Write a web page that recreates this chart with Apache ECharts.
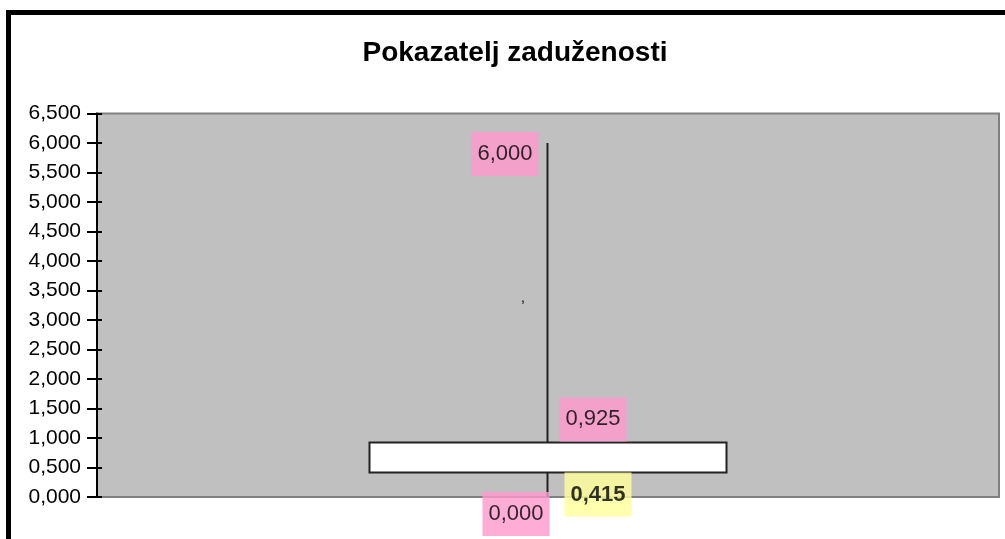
<!DOCTYPE html>
<html>
<head>
<meta charset="utf-8">
<script src="https://cdn.jsdelivr.net/npm/echarts@6/dist/echarts.min.js"></script>
<style>
  html, body { margin: 0; padding: 0; background: #fff; }
  #chart { width: 1005px; height: 539px; }
</style>
</head>
<body>
<div id="chart"></div>
<script>
// podaci
var categories = [''];
var openVals = [0.415];
var closeVals = [0.925];
var lowVals = [0];
var highVals = [6];

var FONT = "'Liberation Sans', Arial, sans-serif";

var fmt = function (v) {
    return v.toFixed(3).replace('.', ',');
};

var chart = echarts.init(document.getElementById('chart'));

var candleData = categories.map(function (c, i) {
    return [openVals[i], closeVals[i], lowVals[i], highVals[i]];
});

// oznake uz svijeću
var pink = { backgroundColor: '#ff99cc', fontWeight: 'normal' };
var yellow = { backgroundColor: '#ffff99', fontWeight: 'bold' };
var labelData = [
    { value: [0, highVals[0]], label: Object.assign({ offset: [-43, 11] }, pink) },
    { value: [0, closeVals[0]], label: Object.assign({ offset: [45, -23] }, pink) },
    { value: [0, lowVals[0]], label: Object.assign({ offset: [-32, 17] }, pink) },
    { value: [0, openVals[0]], label: Object.assign({ offset: [50, 22] }, yellow) }
];

var option = {
    animation: false,
    backgroundColor: '#fff',
    textStyle: { fontFamily: FONT },
    grid: {
        show: true,
        left: 97,
        top: 113.5,
        right: 6,
        bottom: 42,
        backgroundColor: '#c0c0c0',
        borderColor: '#808080',
        borderWidth: 2
    },
    xAxis: {
        type: 'category',
        data: categories,
        boundaryGap: true,
        axisLine: { show: false },
        axisTick: { show: false },
        axisLabel: { show: false },
        splitLine: { show: false }
    },
    yAxis: [{
        type: 'value',
        min: 0,
        max: 6.5,
        interval: 0.5,
        axisLine: { show: true, lineStyle: { color: '#000', width: 2 } },
        axisTick: { show: true, length: 10, lineStyle: { color: '#000', width: 2 } },
        axisLabel: {
            formatter: fmt,
            color: '#000',
            fontSize: 21,
            fontFamily: FONT,
            margin: 16
        },
        splitLine: { show: false }
    }, {
        type: 'value',
        position: 'left',
        min: 0,
        max: 6.5,
        interval: 0.5,
        axisLine: { show: false },
        axisTick: { show: true, inside: true, length: 5, lineStyle: { color: '#000', width: 2 } },
        axisLabel: { show: false },
        splitLine: { show: false }
    }],
    series: [{
        type: 'candlestick',
        data: candleData,
        barWidth: 357,
        itemStyle: {
            color: '#fff',
            color0: '#fff',
            borderColor: '#222',
            borderColor0: '#222',
            borderWidth: 2
        }
    }, {
        type: 'scatter',
        data: labelData,
        symbolSize: 0,
        silent: true,
        label: {
            show: true,
            position: 'inside',
            formatter: function (p) { return fmt(p.value[1]); },
            color: '#000',
            fontSize: 22,
            fontFamily: FONT,
            lineHeight: 22,
            padding: [11, 6]
        }
    }],
    graphic: [{
        type: 'rect',
        silent: true,
        shape: { x: 8.5, y: 12.5, width: 1100, height: 700 },
        style: { fill: null, stroke: '#000', lineWidth: 5 }
    }, {
        type: 'text',
        silent: true,
        x: 515,
        y: 53,
        style: {
            text: 'Pokazatelj zaduženosti',
            font: 'bold 28px ' + FONT,
            fill: '#000',
            textAlign: 'center',
            textVerticalAlign: 'middle'
        }
    }, {
        type: 'text',
        silent: true,
        x: 523,
        y: 298,
        z: 10,
        style: {
            text: ',',
            font: '14px ' + FONT,
            fill: '#000',
            textAlign: 'center',
            textVerticalAlign: 'middle'
        }
    }]
};

chart.setOption(option);
</script>
</body>
</html>
